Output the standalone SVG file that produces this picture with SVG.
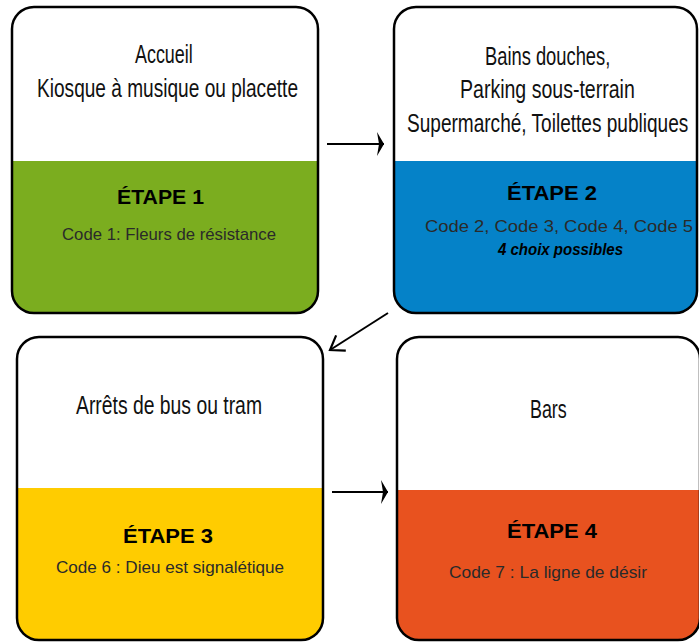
<svg xmlns="http://www.w3.org/2000/svg" width="699" height="643" viewBox="0 0 699 643">
<defs>
<style>
.frame{fill:none;stroke:#000;stroke-width:2.5}
.bg{fill:#fff}
.title{font-family:"Liberation Sans",Arial,sans-serif;font-size:25px;fill:#111}
.step{font-family:"Liberation Sans",Arial,sans-serif;font-size:21px;font-weight:bold;fill:#000}
.code{font-family:"Liberation Sans",Arial,sans-serif;font-size:17px;fill:#2a2a2a}
.note{font-family:"Liberation Sans",Arial,sans-serif;font-size:16px;font-weight:bold;font-style:italic;fill:#000}
.conn{stroke:#000;stroke-width:2;fill:none}
</style>
<marker id="head" markerUnits="userSpaceOnUse" markerWidth="12" markerHeight="26" viewBox="-8 -13 10 26" refX="0" refY="0" orient="auto">
<path d="M0,0 L-7,-12 L-5,0 L-7,12 Z" fill="#000"/>
</marker>
<marker id="chev" markerUnits="userSpaceOnUse" markerWidth="20" markerHeight="24" viewBox="-16 -12 20 24" refX="0" refY="0" orient="auto">
<path d="M-13,-9 L0,0 L-13,9" fill="none" stroke="#000" stroke-width="2.2"/>
</marker>
</defs>

<g id="node-etape1">
<rect class="bg" x="12" y="7" width="306" height="306" rx="22"/>
<path d="M12,161 H318 V291 A22,22 0 0 1 296,313 H34 A22,22 0 0 1 12,291 Z" fill="#7bad1f"/>
<rect class="frame" x="12" y="7" width="306" height="306" rx="22"/>
<text class="title" transform="translate(135,63) scale(0.75,1)" textLength="77" lengthAdjust="spacingAndGlyphs">Accueil</text>
<text class="title" transform="translate(37,97) scale(0.75,1)" textLength="348" lengthAdjust="spacingAndGlyphs">Kiosque à musique ou placette</text>
<text class="step" x="117" y="204" textLength="87" lengthAdjust="spacingAndGlyphs">ÉTAPE 1</text>
<text class="code" x="62" y="240" textLength="214" lengthAdjust="spacingAndGlyphs">Code 1: Fleurs de résistance</text>
</g>

<g id="node-etape2">
<rect class="bg" x="394" y="7" width="303" height="306" rx="22"/>
<path d="M394,161 H697 V291 A22,22 0 0 1 675,313 H416 A22,22 0 0 1 394,291 Z" fill="#0582c8"/>
<rect class="frame" x="394" y="7" width="303" height="306" rx="22"/>
<text class="title" transform="translate(485,65) scale(0.75,1)" textLength="167" lengthAdjust="spacingAndGlyphs">Bains douches,</text>
<text class="title" transform="translate(460,98) scale(0.75,1)" textLength="233" lengthAdjust="spacingAndGlyphs">Parking sous-terrain</text>
<text class="title" transform="translate(407,132) scale(0.75,1)" textLength="375" lengthAdjust="spacingAndGlyphs">Supermarché, Toilettes publiques</text>
<text class="step" x="507" y="200" textLength="90" lengthAdjust="spacingAndGlyphs">ÉTAPE 2</text>
<text class="code" x="425" y="232" textLength="268" lengthAdjust="spacingAndGlyphs">Code 2, Code 3, Code 4, Code 5</text>
<text class="note" x="498" y="255" textLength="125" lengthAdjust="spacingAndGlyphs">4 choix possibles</text>
</g>

<g id="node-etape3">
<rect class="bg" x="17" y="337" width="306" height="303" rx="22"/>
<path d="M17,488 H323 V618 A22,22 0 0 1 301,640 H39 A22,22 0 0 1 17,618 Z" fill="#ffcc00"/>
<rect class="frame" x="17" y="337" width="306" height="303" rx="22"/>
<text class="title" transform="translate(76,414) scale(0.75,1)" textLength="248" lengthAdjust="spacingAndGlyphs">Arrêts de bus ou tram</text>
<text class="step" x="123" y="543" textLength="90" lengthAdjust="spacingAndGlyphs">ÉTAPE 3</text>
<text class="code" x="56" y="573" textLength="228" lengthAdjust="spacingAndGlyphs">Code 6 : Dieu est signalétique</text>
</g>

<g id="node-etape4">
<rect class="bg" x="397" y="337" width="303" height="303" rx="22"/>
<path d="M397,490 H700 V618 A22,22 0 0 1 678,640 H419 A22,22 0 0 1 397,618 Z" fill="#e8521f"/>
<rect class="frame" x="397" y="337" width="303" height="303" rx="22"/>
<text class="title" transform="translate(530,418) scale(0.75,1)" textLength="49" lengthAdjust="spacingAndGlyphs">Bars</text>
<text class="step" x="507" y="538" textLength="90" lengthAdjust="spacingAndGlyphs">ÉTAPE 4</text>
<text class="code" x="449" y="578" textLength="198" lengthAdjust="spacingAndGlyphs">Code 7 : La ligne de désir</text>
</g>

<g id="connectors">
<line class="conn" x1="327" y1="144" x2="384" y2="144" marker-end="url(#head)"/>
<line class="conn" x1="388" y1="313" x2="330" y2="350" marker-end="url(#chev)"/>
<line class="conn" x1="332" y1="492" x2="388" y2="492" marker-end="url(#head)"/>
</g>
</svg>
